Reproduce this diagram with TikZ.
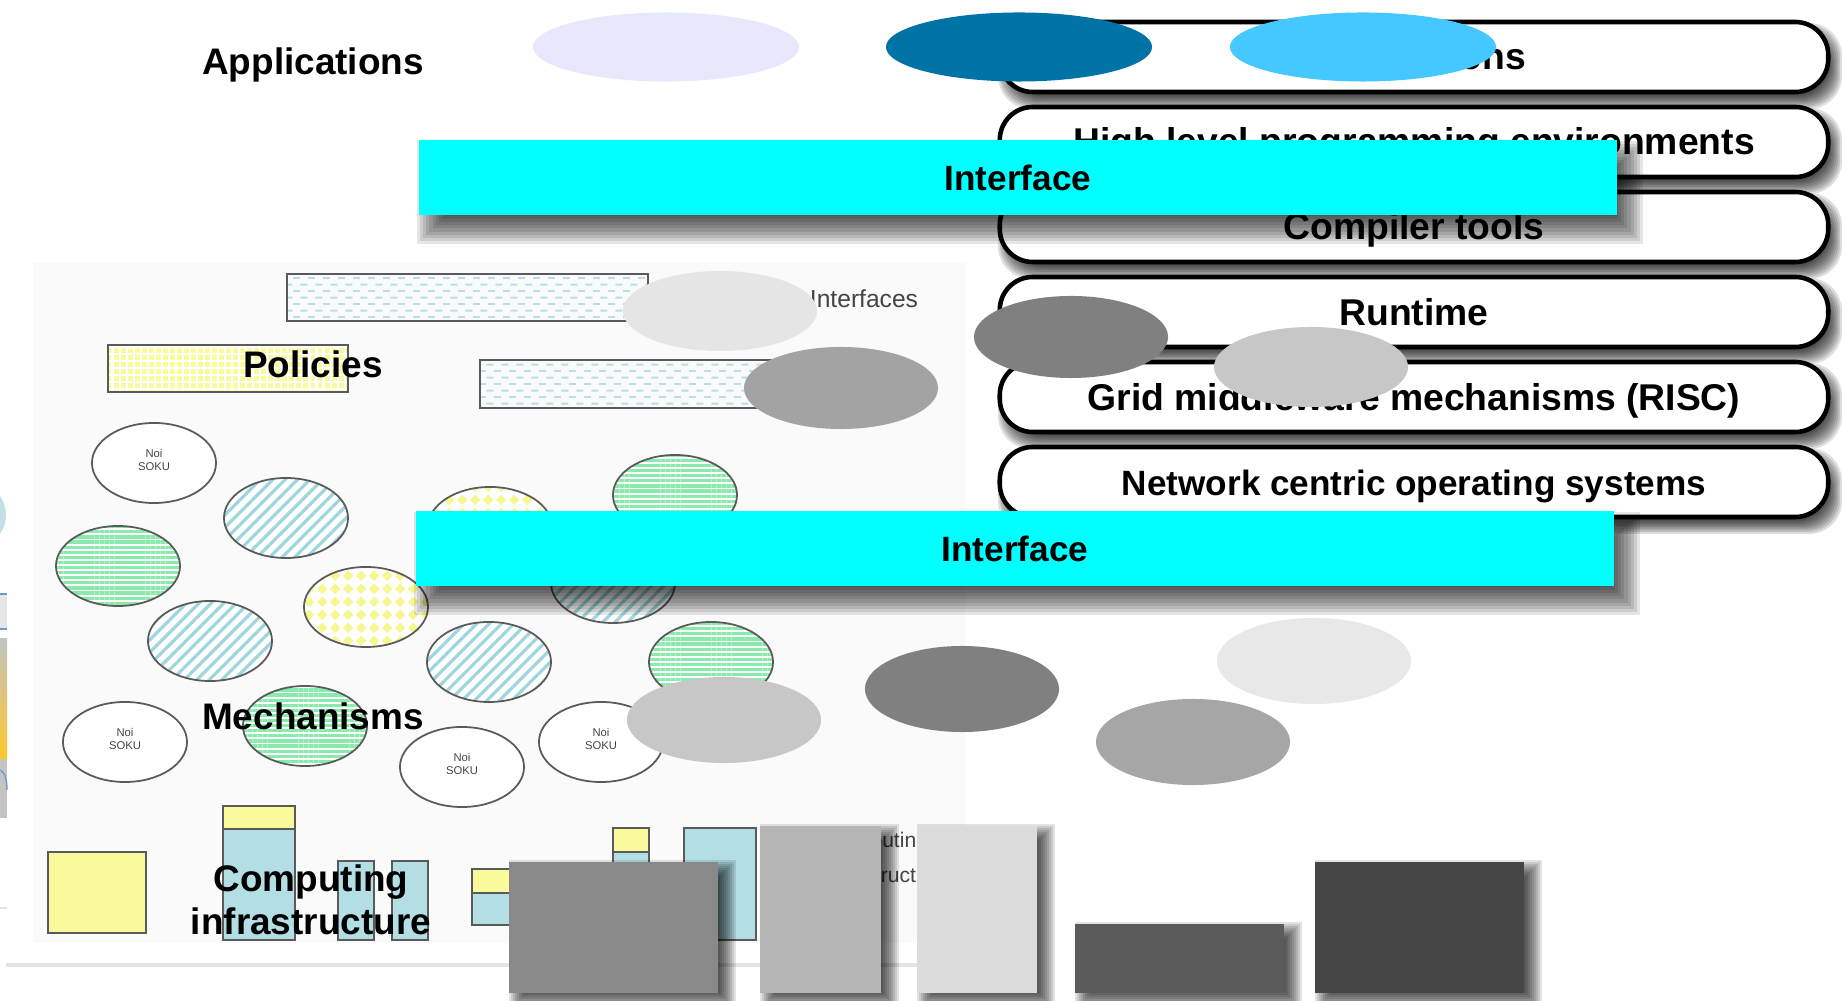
\documentclass[tikz,border=0pt]{standalone}
\usepackage{fontspec}
\setmainfont{Liberation Sans}
\usetikzlibrary{patterns.meta}

\definecolor{pagebg}{HTML}{FAFAFA}
\definecolor{rulegray}{HTML}{E3E3E3}
\definecolor{edgegray}{HTML}{5A5A5A}
\definecolor{stripegreen}{HTML}{8AEAAC}
\definecolor{stripeblue}{HTML}{9ED6DD}
\definecolor{diamondyellow}{HTML}{F6F78E}
\definecolor{dashblue}{HTML}{B5E0E8}
\definecolor{boxyellow}{HTML}{F8FA9C}
\definecolor{boxblue}{HTML}{B2DEE4}
\definecolor{interfacecyan}{HTML}{00FFFF}
\definecolor{lavender}{HTML}{E8E8FC}
\definecolor{deepblue}{HTML}{0073A6}
\definecolor{skyblue}{HTML}{44C8FF}
\definecolor{fragblue}{HTML}{C3E0E6}
\definecolor{fraglight}{HTML}{E6E6E6}
\definecolor{fraggray}{HTML}{C4C4C4}
\definecolor{fragorange}{HTML}{FFC52A}
\definecolor{fragline}{HTML}{6A9ACB}
\definecolor{smalltext}{HTML}{444444}

% rotated checkerboard of diamonds
\pgfdeclarepattern{
  name=diamondgrid, type=uncolored,
  bottom left={\pgfpoint{0pt}{0pt}},
  top right={\pgfpoint{3.6pt}{3.6pt}},
  tile size={\pgfpoint{3.6pt}{3.6pt}},
  code={
    \pgfpathmoveto{\pgfpoint{1.8pt}{0.3pt}}
    \pgfpathlineto{\pgfpoint{3.3pt}{1.8pt}}
    \pgfpathlineto{\pgfpoint{1.8pt}{3.3pt}}
    \pgfpathlineto{\pgfpoint{0.3pt}{1.8pt}}
    \pgfpathclose
    \pgfusepath{fill}
  }
}
% staggered rows of short dashes
\pgfdeclarepattern{
  name=dashrows, type=uncolored,
  bottom left={\pgfpoint{0pt}{0pt}},
  top right={\pgfpoint{4.4pt}{3.8pt}},
  tile size={\pgfpoint{4.4pt}{3.8pt}},
  code={
    \pgfpathrectangle{\pgfpoint{0pt}{0.6pt}}{\pgfpoint{2pt}{0.55pt}}
    \pgfpathrectangle{\pgfpoint{2.2pt}{2.5pt}}{\pgfpoint{2pt}{0.55pt}}
    \pgfusepath{fill}
  }
}

% soft cast shadow: stacked translucent boxes
% #1 corner radius, #2 x1, #3 y1, #4 x2, #5 y2, #6 dx, #7 dy, #8 blur, #9 layer opacity
\newcommand\castshadow[9]{%
  \foreach \k in {0,...,9}{%
    \pgfmathsetmacro\grow{#8*(1-\k/4.5)}%
    \fill[black, opacity=#9, rounded corners=#1]
      (#2+#6-\grow, #3+#7-\grow) rectangle (#4+#6+\grow, #5+#7+\grow);
  }%
}

\tikzset{
  labeltext/.style={font=\fontsize{10.5}{12}\selectfont\bfseries, inner sep=0pt, anchor=base},
  layerpill/.style={draw=black, line width=1.3pt, fill=white, rounded corners=3.3mm,
    minimum width=8.28cm, minimum height=0.7cm, inner sep=0pt,
    text height=7.4pt, text depth=0pt, font=\fontsize{10.6}{12}\selectfont\bfseries},
  interfacebar/.style={fill=interfacecyan, minimum width=11.98cm, minimum height=0.75cm,
    inner sep=0pt, text height=7.2pt, text depth=0pt, font=\fontsize{10}{12}\selectfont\bfseries},
  ovaledge/.style={draw=edgegray, line width=0.5pt},
  hstripes/.style={ovaledge, preaction={fill=white}, pattern={Lines[angle=0,distance=1.45pt,line width=0.9pt]}, pattern color=stripegreen},
  dstripes/.style={ovaledge, preaction={fill=white}, pattern={Lines[angle=45,distance=2.5pt,line width=0.9pt]}, pattern color=stripeblue},
  diamonds/.style={ovaledge, preaction={fill=white}, pattern=diamondgrid, pattern color=diamondyellow},
  plainoval/.style={ovaledge, fill=white},
  boxedge/.style={draw=edgegray, line width=0.45pt},
  tinytext/.style={font=\fontsize{3.2}{3.6}\selectfont, inner sep=0pt, anchor=base, text=smalltext},
  smalllabel/.style={font=\fontsize{6}{7}\selectfont, inner sep=0pt, anchor=base, text=smalltext},
}

\begin{document}
\begin{tikzpicture}[x=0.01cm,y=-0.01cm]
\useasboundingbox (0,0) rectangle (1842,1001);
\fill[white] (0,0) rectangle (1842,1001);

% ---------- embedded slide on the left ----------
\fill[pagebg] (33,263) rectangle (966,943);
\draw[rulegray, line width=1.2pt] (6,965) -- (917,965);

% window cut off by the left border
\fill[fragblue] (-14,515) ellipse [x radius=0.2cm, y radius=0.26cm];
\fill[fraglight] (0,594) rectangle (7,629);
\draw[fragline, line width=0.4pt] (0,594) -- (7,594) (0,629) -- (7,629);
\shade[top color=fraggray, bottom color=fragorange] (0,639) rectangle (7,759);
\fill[fraggray] (0,759) rectangle (7,818);
\draw[fragline, line width=0.4pt] (0,770) .. controls (5,772) and (7,780) .. (7,790);
\draw[rulegray, line width=0.6pt] (0,908) -- (7,908);

% policy / interface boxes
\path[boxedge, pattern=dashrows, pattern color=dashblue] (287,274) rectangle (648,321);
\path[boxedge, pattern=dashrows, pattern color=dashblue] (480,360) rectangle (780,408);
\path[boxedge, preaction={fill=boxyellow}, pattern={Hatch[angle=0,distance=2pt,line width=0.6pt]}, pattern color=white] (108,345) rectangle (348,392);
\node[font=\fontsize{7}{8}\selectfont, inner sep=0pt, anchor=base, text=smalltext] (ifaces) at (864,308) {Interfaces};

% mechanism ovals
\path[plainoval] (154,463) ellipse [x radius=0.62cm, y radius=0.4cm];
\path[plainoval] (125,742) ellipse [x radius=0.62cm, y radius=0.4cm];
\path[plainoval] (462,767) ellipse [x radius=0.62cm, y radius=0.4cm];
\path[plainoval] (601,742) ellipse [x radius=0.62cm, y radius=0.4cm];
\path[dstripes] (286,518) ellipse [x radius=0.62cm, y radius=0.4cm];
\path[dstripes] (613,583) ellipse [x radius=0.62cm, y radius=0.4cm];
\path[dstripes] (210,641) ellipse [x radius=0.62cm, y radius=0.4cm];
\path[dstripes] (489,662) ellipse [x radius=0.62cm, y radius=0.4cm];
\path[hstripes] (118,566) ellipse [x radius=0.62cm, y radius=0.4cm];
\path[hstripes] (675,495) ellipse [x radius=0.62cm, y radius=0.4cm];
\path[hstripes] (711,662) ellipse [x radius=0.62cm, y radius=0.4cm];
\path[hstripes] (305,726) ellipse [x radius=0.62cm, y radius=0.4cm];
\path[diamonds] (490,527) ellipse [x radius=0.62cm, y radius=0.4cm];
\path[diamonds] (366,607) ellipse [x radius=0.62cm, y radius=0.4cm];

\foreach \cx/\cy [count=\k] in {154/463, 125/742, 462/767, 601/742} {
  \node[tinytext] (nodeA\k) at (\cx,\cy-5) {Noi};
  \node[tinytext] (nodeB\k) at (\cx,\cy+8) {SOKU};
}

% infrastructure blocks
\path[boxedge, fill=boxyellow] (48,852) rectangle (146,933);
\path[boxedge, fill=boxblue] (223,829) rectangle (295,940);
\path[boxedge, fill=boxyellow] (223,806) rectangle (295,829);
\path[boxedge, fill=boxblue] (338,861) rectangle (374,940);
\path[boxedge, fill=boxblue] (392,861) rectangle (428,940);
\path[boxedge, fill=boxblue] (472,893) rectangle (540,925);
\path[boxedge, fill=boxyellow] (472,869) rectangle (540,893);
\path[boxedge, fill=boxblue] (613,852) rectangle (649,940);
\path[boxedge, fill=boxyellow] (613,828) rectangle (649,852);
\path[boxedge, fill=boxblue] (684,828) rectangle (756,940);
\node[smalllabel] (infra1) at (877,848) {Computing};
\node[smalllabel] (infra2) at (885,883) {infrastructure};

% ---------- layer stack on the right ----------
\castshadow{3.3mm}{1000}{22}{1828}{92}{6}{9}{8}{0.13}
\node[layerpill] (appl)  at (1414,57)  {Applications};
\castshadow{3.3mm}{1000}{107}{1828}{177}{6}{9}{8}{0.13}
\node[layerpill] (hlpe)  at (1414,142) {High level programming environments};
\castshadow{3.3mm}{1000}{192}{1828}{262}{6}{9}{8}{0.13}
\node[layerpill] (comp)  at (1414,227) {Compiler tools};
\castshadow{3.3mm}{1000}{277}{1828}{347}{6}{9}{8}{0.13}
\node[layerpill] (rt)    at (1414,312) {Runtime};
\castshadow{3.3mm}{1000}{362}{1828}{432}{6}{9}{8}{0.13}
\node[layerpill] (grid)  at (1414,397) {Grid middleware mechanisms (RISC)};
\castshadow{3.3mm}{1000}{447}{1828}{517}{6}{9}{8}{0.13}
\node[layerpill, font=\fontsize{10}{12}\selectfont\bfseries] (ncos) at (1414,482) {Network centric operating systems};

% ---------- section labels ----------
\node[labeltext] (lapps) at (313,75)  {Applications};
\node[labeltext] (lpol)  at (313,378) {Policies};
\node[labeltext] (lmech) at (313,730) {Mechanisms};
\node[labeltext] (lcomp) at (311,892) {Computing};
\node[labeltext] (linfr) at (311,935) {infrastructure};

% ---------- interface bars ----------
\castshadow{0pt}{419}{140}{1617}{215}{12}{15}{14}{0.1}
\node[interfacebar] (ifup)   at (1018,177.5) {Interface};
\castshadow{0pt}{416}{511}{1614}{586}{12}{15}{14}{0.1}
\node[interfacebar] (ifdown) at (1015,548.5) {Interface};

% ---------- coloured ovals on top ----------
\fill[lavender] (666,47)  ellipse [x radius=1.33cm, y radius=0.345cm];
\fill[deepblue] (1019,47) ellipse [x radius=1.33cm, y radius=0.345cm];
\fill[skyblue]  (1363,47) ellipse [x radius=1.33cm, y radius=0.345cm];

\fill[black!10] (720,311)  ellipse [x radius=0.97cm, y radius=0.40cm];
\fill[black!36] (841,388)  ellipse [x radius=0.97cm, y radius=0.41cm];
\fill[black!50] (1071,337) ellipse [x radius=0.97cm, y radius=0.41cm];
\fill[black!22] (1311,367) ellipse [x radius=0.97cm, y radius=0.40cm];
\fill[black!22] (724,720)  ellipse [x radius=0.97cm, y radius=0.43cm];
\fill[black!50] (962,689)  ellipse [x radius=0.97cm, y radius=0.43cm];
\fill[black!9]  (1314,661) ellipse [x radius=0.97cm, y radius=0.43cm];
\fill[black!35] (1193,742) ellipse [x radius=0.97cm, y radius=0.43cm];

% ---------- grey blocks along the bottom ----------
\castshadow{0pt}{509}{862}{718}{993}{9}{7}{9}{0.11}
\fill[fill={rgb,255:red,137;green,137;blue,137}] (509,862) rectangle (718,993);
\castshadow{0pt}{760}{826}{881}{993}{9}{7}{9}{0.11}
\fill[fill={rgb,255:red,181;green,181;blue,181}] (760,826) rectangle (881,993);
\castshadow{0pt}{917}{826}{1037}{993}{9}{7}{9}{0.11}
\fill[fill={rgb,255:red,220;green,220;blue,220}] (917,826) rectangle (1037,993);
\castshadow{0pt}{1075}{924}{1284}{993}{9}{7}{9}{0.11}
\fill[fill={rgb,255:red,91;green,91;blue,91}]    (1075,924) rectangle (1284,993);
\castshadow{0pt}{1315}{862}{1524}{993}{9}{7}{9}{0.11}
\fill[fill={rgb,255:red,70;green,70;blue,70}]    (1315,862) rectangle (1524,993);
\end{tikzpicture}
\end{document}
